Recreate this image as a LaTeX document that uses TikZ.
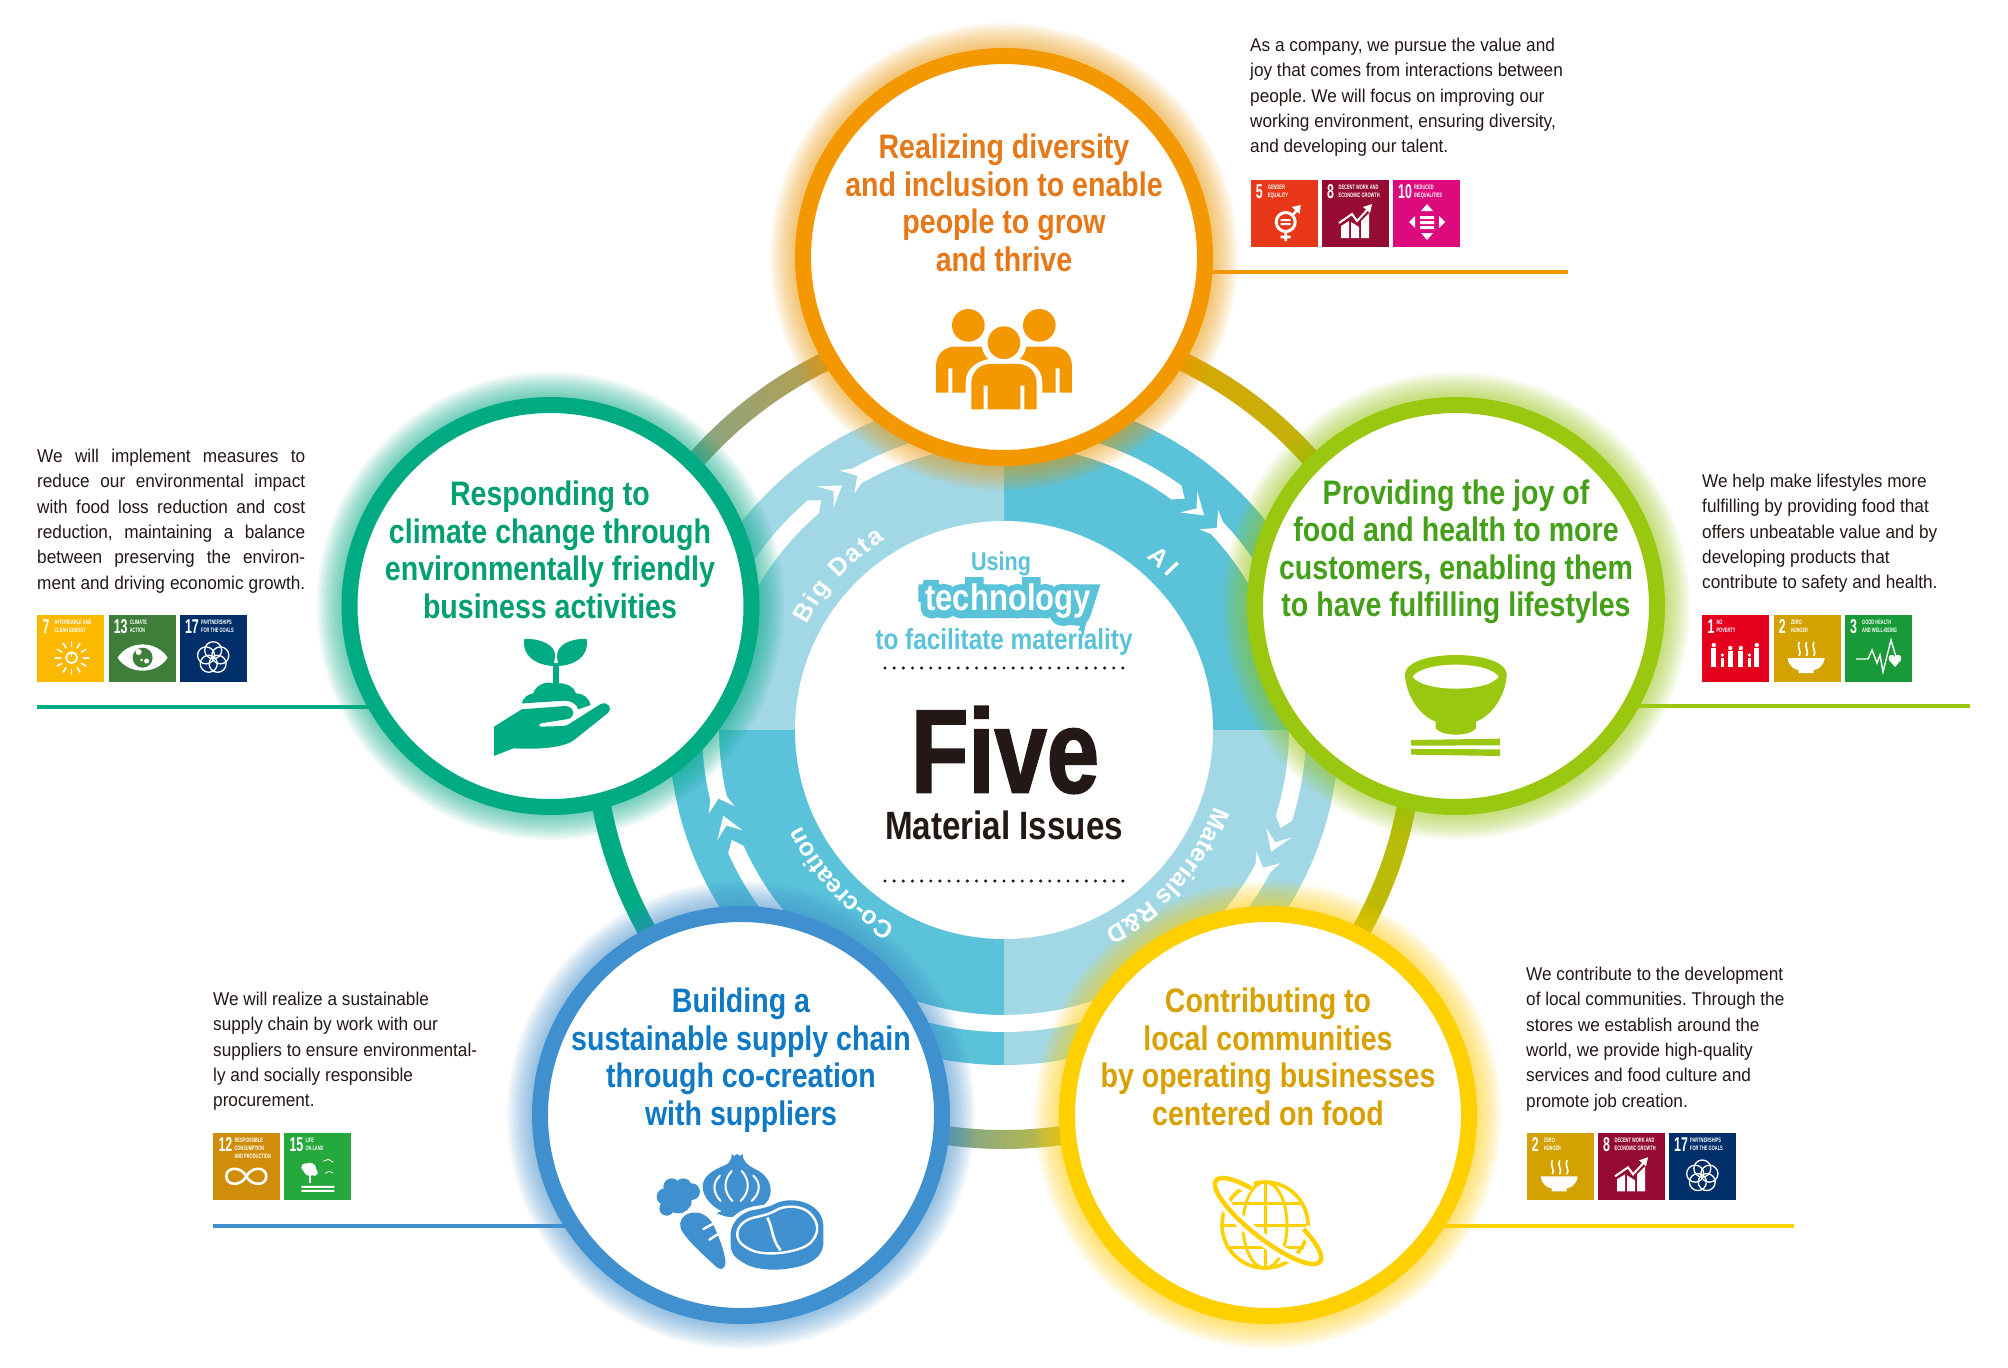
\documentclass[tikz,border=0pt]{standalone}
\usepackage{fontspec}
\setmainfont{Liberation Sans}
\newfontfamily\headfont[FakeStretch=0.84]{Liberation Sans}
\newfontfamily\halofont[FakeStretch=0.84,FakeBold=38]{Liberation Sans}
\newfontfamily\fivefont[FakeStretch=0.79,FakeBold=1.5]{Liberation Sans}
\newfontfamily\bodyfont[FakeStretch=0.93]{Liberation Sans}
\newfontfamily\tilefont[FakeStretch=0.62]{Liberation Sans}
\usetikzlibrary{decorations.text}
\frenchspacing

\definecolor{cOrange}{HTML}{F39800}
\definecolor{cGreen}{HTML}{00AB84}
\definecolor{cLime}{HTML}{9AC70F}
\definecolor{cBlue}{HTML}{4090D0}
\definecolor{cYellow}{HTML}{FFD000}
\definecolor{cGrey}{HTML}{6FA8A8}
\definecolor{tOrange}{HTML}{E67817}
\definecolor{tGreen}{HTML}{00A070}
\definecolor{tLime}{HTML}{45A019}
\definecolor{tBlue}{HTML}{0F79C3}
\definecolor{tYellow}{HTML}{D8A000}
\definecolor{bandLight}{HTML}{A2D8E6}
\definecolor{bandDark}{HTML}{5AC2D9}
\definecolor{inkBlack}{HTML}{231815}
\definecolor{sdgRed}{HTML}{E83819}
\definecolor{sdgWine}{HTML}{960B33}
\definecolor{sdgPink}{HTML}{DD0A7D}
\definecolor{sdgSun}{HTML}{FDB900}
\definecolor{sdgLeaf}{HTML}{3F7E3A}
\definecolor{sdgNavy}{HTML}{002F6A}
\definecolor{sdgPure}{HTML}{E5001E}
\definecolor{sdgGold}{HTML}{D3A200}
\definecolor{sdgHerb}{HTML}{189A38}
\definecolor{sdgOchre}{HTML}{CF8D0A}
\definecolor{sdgGrass}{HTML}{25A83C}

\tikzset{
  issue/.style={circle,draw=#1,line width=16pt,fill=white,minimum size=402pt,inner sep=0pt},
  headtext/.style={text=#1,font=\headfont\bfseries\fontsize{34}{37.5}\selectfont,align=center,inner sep=0pt},
  bodytext/.style={text=inkBlack,font=\bodyfont\fontsize{18.5}{25.3}\selectfont,align=left,anchor=north west,inner sep=0pt},
  leader/.style={draw=#1,line width=4pt},
  tile/.style={minimum size=67pt,inner sep=0pt,outer sep=0pt,anchor=north west},
  tilenum/.style={text=white,font=\tilefont\bfseries\fontsize{20}{20}\selectfont,anchor=north west,inner sep=0pt},
  tilename/.style={text=white,font=\tilefont\bfseries\fontsize{6.4}{8}\selectfont,anchor=north west,inner sep=0pt,align=left},
  bandtext/.style={decorate,decoration={text along path,text={|\bfseries\fontsize{25}{25}\selectfont\color{white}|#1},text align={fit to path}}}
}
\newcommand{\jline}[1]{\makebox[268pt][s]{#1}}

% sdg pictograms, drawn from the corner of the tile
\newcommand{\sdgGender}{
  \draw[white,line width=3pt] (35,42) circle (9.5);
  \fill[white] (30,39) rectangle (40,41) (30,43) rectangle (40,45);
  \draw[white,line width=2.6pt] (35,52) -- (35,61) (30,57) -- (40,57) (42,35) -- (48,28);
  \fill[white] (50,25) -- (41,27) -- (49,34) -- cycle;
}
\newcommand{\sdgGrowth}{
  \fill[white] (19,46) -- (27,41) -- (27,58) -- (19,58) -- cycle (29,42) -- (37,47) -- (37,58) -- (29,58) -- cycle (39,41) -- (47,33) -- (47,58) -- (39,58) -- cycle;
  \draw[white,line width=2pt] (17,43) -- (30,34) -- (35,41) -- (47,28);
  \fill[white] (50,24) -- (41,27) -- (48,33) -- cycle;
}
\newcommand{\sdgIneq}{
  \fill[white] (34,24) -- (40,31) -- (28,31) -- cycle (34,60) -- (40,53) -- (28,53) -- cycle (16,42) -- (22,36) -- (22,48) -- cycle (52,42) -- (46,36) -- (46,48) -- cycle;
  \fill[white] (27,36) rectangle (41,39) (27,41) rectangle (41,44) (27,46) rectangle (41,49);
}
\newcommand{\sdgEnergy}{
  \draw[white,line width=1.8pt] (34.3,42.7) circle (5.5);
  \foreach \a in {0,30,...,330}{\draw[white,line width=1.6pt] (34.3,42.7) ++(\a:11) -- ++(\a:6);}
  \draw[white,line width=1.6pt] (34.3,37) -- (34.3,42);
}
\newcommand{\sdgClimate}{
  \fill[white] (9,42.7) .. controls (20,25) and (48,25) .. (59,42.7) .. controls (48,60) and (20,60) .. (9,42.7) -- cycle;
  \fill[sdgLeaf] (34,42.7) circle (10);
  \fill[white] (30,37) circle (3) (38,46) circle (2.5) (33,45) circle (1.5);
}
\newcommand{\sdgPartner}{
  \foreach \a in {90,162,234,306,378}{\draw[white,line width=1.3pt] (33.3,42.7) ++(\a:-7.5) circle (8.5);}
}
\newcommand{\sdgPoverty}{
  \foreach \x/\t in {11.5/30,28/33,38.5/33,54.5/30}{
    \fill[white] (\x,\t) circle (2.2);
    \fill[white] (\x-2.5,\t+3) rectangle (\x+2.5,52);
  }
  \foreach \x in {20,47}{
    \fill[white] (\x,40) circle (1.8);
    \fill[white] (\x-1.8,42.5) rectangle (\x+1.8,52);
  }
}
\newcommand{\sdgHunger}{
  \fill[white] (14,43) -- (51,43) .. controls (50,52) and (43,55) .. (40,55) -- (40,58) -- (25,58) -- (25,55) .. controls (22,55) and (15,52) .. (14,43) -- cycle;
  \foreach \x in {25.6,33,40.3}{\draw[white,line width=1.6pt] (\x,27) .. controls (\x-3,32) and (\x+3,36) .. (\x,41);}
}
\newcommand{\sdgHealth}{
  \draw[white,line width=1.4pt] (11,44) -- (23,44) -- (27,35) -- (32,48) -- (35,40) -- (38,57) -- (46,25) -- (51,42);
  \fill[white] (50,52) -- (44,45) .. controls (42,40) and (48,38) .. (50,42) .. controls (52,38) and (58,40) .. (56,45) -- cycle;
}
\newcommand{\sdgCons}{
  \draw[white,line width=2.6pt] (33,43) .. controls (28,33) and (13,33) .. (13,43) .. controls (13,53) and (28,53) .. (33,43) .. controls (38,33) and (53,33) .. (53,43) .. controls (53,53) and (38,53) .. (33,43);
}
\newcommand{\sdgLand}{
  \fill[white] (25.5,36) circle (6.5) (21,34) circle (4) (30,39) circle (3.5);
  \fill[white] (24.5,40) rectangle (26.5,50);
  \fill[white] (17,52.5) rectangle (50,54.5) (17,56.5) rectangle (50,58.5);
  \draw[white,line width=.8pt] (39,28) -- (44,26) -- (49,29) (41,40) -- (45,38) -- (49,40);
}
% tile: name, x, y, colour, number, title, pictogram, x of title
\newcommand{\sdg}[8]{
  \begin{scope}[shift={(#2,#3)}]
    \node[tile,fill=#4] (#1) at (0,0) {};
    \node[tilenum] (#1num) at (5,4.5) {#5};
    \node[tilename] (#1txt) at (#8,4.5) {#6};
    #7
  \end{scope}
}

\begin{document}
\begin{tikzpicture}[x=1pt,y=-1pt]
\path[fill=white,use as bounding box] (0,0) rectangle (2008,1368);

\coordinate (topc) at (1004,257);
\coordinate (leftc) at (550.5,606);
\coordinate (rightc) at (1456,606);
\coordinate (lowlc) at (741,1115);
\coordinate (lowrc) at (1268,1115);
\coordinate (topend) at (1568,271.5);
\coordinate (leftend) at (37,706.5);
\coordinate (rightend) at (1970,706);
\coordinate (lowlend) at (213,1225.5);
\coordinate (lowrend) at (1794,1225.5);
\draw[leader=cOrange] (topc |- topend) -- (topend);
\draw[leader=cGreen] (leftc |- leftend) -- (leftend);
\draw[leader=cLime] (rightc |- rightend) -- (rightend);
\draw[leader=cBlue] (lowlc |- lowlend) -- (lowlend);
\draw[leader=cYellow] (lowrc |- lowrend) -- (lowrend);

% rings round the hub
\begin{scope}[shift={(1004,730)},x=1pt,y=1pt]
\shade[left color=cOrange,right color=cLime!70!cOrange] (90:400) arc (90:20:400) -- (20:419) arc (20:90:419) -- cycle;
\shade[left color=cGrey,right color=cOrange] (90:400) arc (90:160:400) -- (160:419) arc (160:90:419) -- cycle;
\fill[cGreen] (160:400) arc (160:250:400) -- (250:419) arc (250:160:419) -- cycle;
\shade[left color=cBlue,right color=cYellow] (250:400) arc (250:290:400) -- (290:419) arc (290:250:419) -- cycle;
\shade[top color=cLime,bottom color=cYellow!85!black] (20:400) arc (20:-70:400) -- (-70:419) arc (-70:20:419) -- cycle;
\fill[bandDark] (0,0) -- (0:335) arc (0:90:335) -- cycle;
\fill[bandLight] (0,0) -- (90:335) arc (90:180:335) -- cycle;
\fill[bandDark] (0,0) -- (180:335) arc (180:270:335) -- cycle;
\fill[bandLight] (0,0) -- (270:335) arc (270:360:335) -- cycle;
\foreach \c/\s/\e in {125.5/170/90,49/90/10,-22.5/10/-90,199/270/170}{
  \fill[white] (\s:285) arc (\s:\c+5:285) -- ({\c+3}:293.5) -- ({\c+5}:302) arc (\c+5:\s:302) -- cycle;
  \fill[white] ({\c+2}:307) -- ({\c-2}:293.5) -- ({\c+2}:280) -- (\c:293.5) -- cycle;
  \fill[white] ({\c-3.2}:307) -- ({\c-5.5}:293.5) -- ({\c-3.2}:280) -- ({\c-5.5}:285) arc (\c-5.5:\e:285) -- (\e:302) arc (\e:\c-5.5:302) -- cycle;
}
\end{scope}

% the five issues, each with its glow
\foreach \name/\at/\col in {topissue/topc/cOrange,leftissue/leftc/cGreen,rightissue/rightc/cLime,lowlissue/lowlc/cBlue,lowrissue/lowrc/cYellow}{
  \foreach \r in {210,212,...,234}{\fill[\col,opacity=.055] (\at) circle (\r);}
  \node[issue=\col] (\name) at (\at) {};
}

\node[circle,fill=white,minimum size=418pt,inner sep=0pt] (hub) at (1004,730) {};
\begin{scope}[shift={(1004,730)},x=1pt,y=1pt]
\path[bandtext={Big Data}] (152:224) arc (152:122:224);
\path[bandtext={AI}] (50.5:224) arc (50.5:43:224);
\path[bandtext={Materials R{\&}D}] (-20:224) arc (-20:-63:224);
\path[bandtext={Co-creation}] (241:224) arc (241:207:224);
\end{scope}

\node[text=bandDark,font=\headfont\bfseries\fontsize{25.7}{28}\selectfont,inner sep=0pt] (using) at (1001,563.5) {Using};
\node[text=bandDark,font=\halofont\bfseries\fontsize{37}{40}\selectfont,inner sep=0pt] (techhalo) at (1008,601.5) {technology};
\node[text=white,font=\headfont\bfseries\fontsize{37}{40}\selectfont,inner sep=0pt] (tech) at (1008,601.5) {technology};
\node[text=bandDark,font=\headfont\bfseries\fontsize{29}{32}\selectfont,inner sep=0pt] (facil) at (1004,642) {to facilitate materiality};
\coordinate (dota) at (885,668);
\coordinate (dotb) at (1123,668);
\coordinate (dotc) at (885,881);
\coordinate (dotd) at (1123,881);
\draw[inkBlack,line width=3.4pt,line cap=round,dash pattern=on 0pt off 9.15pt] (dota) -- (dotb);
\draw[inkBlack,line width=3.4pt,line cap=round,dash pattern=on 0pt off 9.15pt] (dotc) -- (dotd);
\node[text=inkBlack,font=\fivefont\bfseries\fontsize{119}{120}\selectfont,inner sep=0pt] (five) at (1005,750) {Five};
\node[text=inkBlack,font=\headfont\bfseries\fontsize{39.5}{42}\selectfont,inner sep=0pt] (matiss) at (1004,825) {Material Issues};

\node[headtext=tOrange] (tophead) at (1004,203) {Realizing diversity\\and inclusion to enable\\people to grow\\and thrive};
\node[headtext=tGreen] (lefthead) at (550,550) {Responding to\\climate change through\\environmentally friendly\\business activities};
\node[headtext=tLime] (righthead) at (1456,552) {Providing the joy of\\food and health to more\\customers, enabling them\\to have fulfilling lifestyles};
\node[headtext=tBlue] (lowlhead) at (741,1060) {Building a\\sustainable supply chain\\through co-creation\\with suppliers};
\node[headtext=tYellow] (lowrhead) at (1268,1057) {Contributing to\\local communities\\by operating businesses\\centered on food};

% people
\begin{scope}[shift={(900,290)},x=.3333pt,y=-.3333pt]
\fill[cOrange] (205,106) circle (49) (418,106) circle (49) (312,158) circle (49);
\fill[cOrange] (108,308) -- (108,230) .. controls (108,190) and (135,170) .. (165,170) -- (245,170) .. controls (248,185) and (255,200) .. (265,207) .. controls (225,215) and (197,240) .. (197,275) -- (197,308) -- (157,308) -- (157,235) -- (145,235) -- (145,308) -- cycle;
\fill[cOrange] (516,308) -- (516,230) .. controls (516,190) and (489,170) .. (459,170) -- (379,170) .. controls (376,185) and (369,200) .. (359,207) .. controls (399,215) and (427,240) .. (427,275) -- (427,308) -- (467,308) -- (467,235) -- (479,235) -- (479,308) -- cycle;
\fill[cOrange] (214,358) -- (214,280) .. controls (214,245) and (240,222) .. (270,222) -- (355,222) .. controls (385,222) and (410,245) .. (410,280) -- (410,358) -- (373,358) -- (373,287) -- (361,287) -- (361,358) -- (263,358) -- (263,287) -- (251,287) -- (251,358) -- cycle;
\end{scope}

% plant on a hand
\begin{scope}[shift={(480,620)},x=.3333pt,y=-.3333pt]
\fill[cGreen] (133,57) .. controls (185,55) and (225,75) .. (226,108) -- (220,138) .. controls (170,135) and (125,110) .. (133,57) -- cycle;
\fill[cGreen] (320,57) .. controls (268,55) and (232,75) .. (231,108) -- (235,138) .. controls (285,135) and (328,110) .. (320,57) -- cycle;
\fill[cGreen] (219,130) rectangle (236,195);
\fill[cGreen] (125,250) .. controls (130,232) and (145,222) .. (160,220) .. controls (165,198) and (195,182) .. (220,190) -- (235,190) .. controls (262,188) and (285,205) .. (288,220) .. controls (310,220) and (328,235) .. (332,255) -- (295,268) .. controls (290,250) and (270,242) .. (255,242) -- (130,250) -- cycle;
\fill[cGreen] (42,320) -- (125,268) -- (255,258) .. controls (272,258) and (280,270) .. (280,280) .. controls (278,292) and (268,298) .. (258,298) -- (182,310) .. controls (175,314) and (175,320) .. (182,320) -- (250,318) .. controls (262,317) and (270,310) .. (280,304) -- (362,252) .. controls (385,243) and (398,265) .. (385,278) -- (285,358) .. controls (260,380) and (190,390) .. (100,385) -- (42,408) -- cycle;
\end{scope}

% bowl
\begin{scope}[shift={(1390,640)},x=.3333pt,y=-.3333pt]
\fill[cLime] (45,100) .. controls (50,65) and (120,45) .. (197,45) .. controls (275,45) and (345,65) .. (350,100) .. controls (350,160) and (310,225) .. (258,245) -- (258,265) .. controls (240,290) and (155,290) .. (137,265) -- (137,245) .. controls (85,225) and (45,160) .. (45,100) -- cycle;
\fill[white] (68,110) .. controls (100,62) and (295,62) .. (326,110) .. controls (295,158) and (100,158) .. (68,110) -- cycle;
\fill[cLime] (63,300) -- (330,296) -- (330,316) -- (63,317) -- cycle;
\fill[cLime] (63,327) -- (330,328) -- (330,348) -- (63,344) -- cycle;
\end{scope}

% onion, carrot, meat
\begin{scope}[shift={(650,1145)},x=.3333pt,y=-.3333pt]
\fill[cBlue] (245,27) -- (253,33) -- (262,27) -- (270,33) -- (278,27) .. controls (278,50) and (295,62) .. (315,72) .. controls (345,85) and (362,110) .. (362,135) .. controls (362,160) and (350,175) .. (340,180) .. controls (310,182) and (275,190) .. (250,215) .. controls (235,220) and (215,210) .. (200,205) -- (215,198) .. controls (185,185) and (158,155) .. (158,125) .. controls (158,95) and (185,78) .. (215,65) .. controls (235,58) and (245,50) .. (245,27) -- cycle;
\draw[white,line width=2pt,line cap=round] (210,92) .. controls (185,115) and (190,145) .. (212,168) (245,78) .. controls (220,105) and (220,140) .. (247,168) (275,78) .. controls (300,105) and (300,140) .. (272,168) (310,92) .. controls (335,115) and (330,145) .. (305,168);
\fill[cBlue] (65,125) circle (25) (100,125) circle (25) (125,140) circle (25) (45,155) circle (25) (50,190) circle (22) (85,165) circle (40) (110,175) circle (15);
\fill[cBlue] (118,205) .. controls (150,195) and (178,215) .. (190,240) .. controls (212,285) and (232,345) .. (225,362) .. controls (218,378) and (205,372) .. (195,362) .. controls (155,325) and (105,280) .. (92,250) .. controls (85,230) and (100,208) .. (118,205) -- cycle;
\draw[white,line width=2.4pt,line cap=round] (160,252) -- (190,236) (178,284) -- (203,268);
\fill[cBlue] (242,265) .. controls (245,235) and (265,210) .. (300,197) .. controls (340,190) and (360,185) .. (385,172) .. controls (420,160) and (465,165) .. (495,190) .. controls (518,210) and (522,235) .. (520,260) -- (520,300) .. controls (515,335) and (485,360) .. (420,370) .. controls (370,378) and (310,375) .. (275,350) .. controls (250,335) and (242,320) .. (242,300) -- cycle;
\draw[white,line width=2.4pt] (262,265) .. controls (265,240) and (285,225) .. (310,218) .. controls (340,212) and (365,205) .. (385,192) .. controls (420,178) and (465,185) .. (485,210) .. controls (510,240) and (505,270) .. (480,295) .. controls (450,320) and (360,335) .. (310,318) .. controls (280,305) and (260,290) .. (262,265) -- cycle;
\draw[white,line width=2.6pt] (352,218) .. controls (368,245) and (365,285) .. (392,316);
\end{scope}

% globe
\draw[cYellow,line width=3.6pt] (1265,1225) circle (43);
\draw[cYellow,line width=3pt] (1265,1225) ellipse (22 and 43);
\draw[cYellow,line width=3pt] (1265,1182) -- (1265,1268) (1226,1203) -- (1304,1203) (1222,1225) -- (1308,1225) (1226,1247) -- (1304,1247);
\begin{scope}[shift={(1268,1221)},x=1pt,y=1pt,rotate=-38]
\draw[white,line width=12pt] (120:66 and 18) arc[start angle=120,end angle=420,x radius=66,y radius=18];
\draw[cYellow,line width=4.5pt] (120:66 and 18) arc[start angle=120,end angle=420,x radius=66,y radius=18];
\end{scope}

% notes beside the circles
\node[bodytext] (topnote) at (1250,38) {As a company, we pursue the value and\\joy that comes from interactions between\\people. We will focus on improving our\\working environment, ensuring diversity,\\and developing our talent.};
\node[bodytext] (leftnote) at (37,449) {\jline{We will implement measures to}\\\jline{reduce our environmental impact}\\\jline{with food loss reduction and cost}\\\jline{reduction, maintaining a balance}\\\jline{between preserving the environ-}\\\jline{ment and driving economic growth.}};
\node[bodytext] (rightnote) at (1702,474) {We help make lifestyles more\\fulfilling by providing food that\\offers unbeatable value and by\\developing products that\\contribute to safety and health.};
\node[bodytext] (lowlnote) at (213,992) {We will realize a sustainable\\supply chain by work with our\\suppliers to ensure environmental-\\ly and socially responsible\\procurement.};
\node[bodytext] (lowrnote) at (1526,967) {We contribute to the development\\of local communities. Through the\\stores we establish around the\\world, we provide high-quality\\services and food culture and\\promote job creation.};

\sdg{sdgtopa}{1250.7}{180}{sdgRed}{5}{GENDER\\EQUALITY}{\sdgGender}{17}
\sdg{sdgtopb}{1322}{180}{sdgWine}{8}{DECENT WORK AND\\ECONOMIC GROWTH}{\sdgGrowth}{16.5}
\sdg{sdgtopc}{1393}{180}{sdgPink}{10}{REDUCED\\INEQUALITIES}{\sdgIneq}{21}
\sdg{sdglefta}{37.3}{615}{sdgSun}{7}{AFFORDABLE AND\\CLEAN ENERGY}{\sdgEnergy}{17}
\sdg{sdgleftb}{108.6}{615}{sdgLeaf}{13}{CLIMATE\\ACTION}{\sdgClimate}{21}
\sdg{sdgleftc}{179.9}{615}{sdgNavy}{17}{PARTNERSHIPS\\FOR THE GOALS}{\sdgPartner}{21}
\sdg{sdgrighta}{1702.3}{615}{sdgPure}{1}{NO\\POVERTY}{\sdgPoverty}{14}
\sdg{sdgrightb}{1773.6}{615}{sdgGold}{2}{ZERO\\HUNGER}{\sdgHunger}{17}
\sdg{sdgrightc}{1845}{615}{sdgHerb}{3}{GOOD HEALTH\\AND WELL-BEING}{\sdgHealth}{17}
\sdg{sdglowla}{213.3}{1133.3}{sdgOchre}{12}{RESPONSIBLE\\CONSUMPTION\\AND PRODUCTION}{\sdgCons}{21}
\sdg{sdglowlb}{284.3}{1133.3}{sdgGrass}{15}{LIFE\\ON LAND}{\sdgLand}{21}
\sdg{sdglowra}{1526.7}{1133.3}{sdgGold}{2}{ZERO\\HUNGER}{\sdgHunger}{17}
\sdg{sdglowrb}{1598}{1133.3}{sdgWine}{8}{DECENT WORK AND\\ECONOMIC GROWTH}{\sdgGrowth}{16.5}
\sdg{sdglowrc}{1669}{1133.3}{sdgNavy}{17}{PARTNERSHIPS\\FOR THE GOALS}{\sdgPartner}{21}
\end{tikzpicture}
\end{document}
